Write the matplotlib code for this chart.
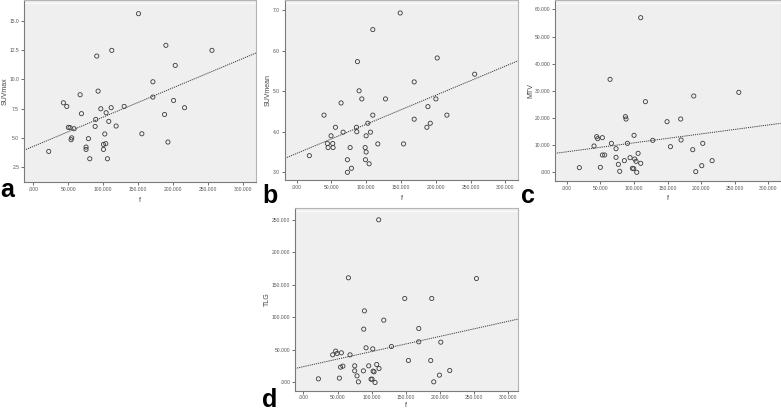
import numpy as np
import matplotlib
matplotlib.use("Agg")
import matplotlib.pyplot as plt

plt.rcParams["font.family"] = ["Liberation Sans", "DejaVu Sans"]

W, H = 781, 411

# ---- data ----------------------------------------------------------------
# x variable "f" (same subjects in every panel)
A_X = [150430, 112200, 90700, 189600, 255500, 203000, 171000, 171000, 200600,
       216300, 187700, 92600, 66900, 43000, 47800, 68800, 96500, 111300,
       104100, 129900, 89300, 107900, 118400, 88400, 50100, 52500, 58300,
       54900, 54000, 78800, 102200, 155200, 192500, 100300, 103600, 75400,
       75400, 100300, 22000, 80700, 106000]
A_Y = [15.63, 12.49, 12.0, 12.92, 12.49, 11.2, 9.8, 8.49, 8.2, 7.58, 7.0,
       9.0, 8.69, 8.0, 7.69, 7.07, 7.49, 7.58, 7.15, 7.69, 6.58, 6.41, 6.01,
       5.98, 5.9, 5.87, 5.78, 5.0, 4.84, 4.93, 5.33, 5.35, 4.64, 4.44, 4.5,
       4.21, 4.01, 4.01, 3.84, 3.21, 3.21]

B_X = [148800, 109400, 87300, 202000, 255800, 168900, 89700, 93600, 127600,
       200100, 63800, 188600, 39300, 109400, 215900, 168900, 102200, 192000,
       187100, 55700, 85900, 66700, 86400, 106000, 49400, 99800, 44100, 51800,
       116600, 153600, 45100, 52300, 76800, 98400, 99800, 18200, 72900, 98800,
       104100, 78700, 72900]
B_Y = [6.93, 6.52, 5.73, 5.82, 5.42, 5.23, 5.01, 4.81, 4.81, 4.81, 4.71, 4.62,
       4.41, 4.41, 4.41, 4.31, 4.21, 4.21, 4.11, 4.11, 4.11, 3.99, 4.0, 3.99,
       3.9, 3.9, 3.71, 3.71, 3.7, 3.7, 3.61, 3.61, 3.61, 3.61, 3.5, 3.41,
       3.31, 3.31, 3.21, 3.1, 3.0]

C_X = [110100, 64500, 256000, 189000, 117100, 87300, 88300, 169600, 149300,
       100200, 44600, 53100, 46100, 128000, 170100, 66500, 90300, 202400,
       40700, 154300, 73400, 187500, 106200, 53100, 56500, 94300, 73400,
       101200, 85800, 103200, 216300, 110100, 76900, 200900, 18800, 50100,
       97700, 99700, 78900, 104200, 192000]
C_Y = [56930, 34230, 29450, 28100, 26010, 20490, 19630, 19630, 18650, 13620,
       13130, 12760, 12390, 11780, 11900, 10670, 10670, 10670, 9690, 9450,
       8710, 8340, 7000, 6380, 6380, 5400, 5520, 4910, 4300, 4050, 4300, 3310,
       2940, 2450, 1720, 1840, 1470, 1350, 370, 0, 250]

D_X = [110200, 65900, 253200, 148300, 187800, 89300, 117600, 88300, 168800,
       168800, 201000, 128800, 91700, 101500, 42900, 47300, 49300, 55600,
       68300, 153700, 186300, 75100, 95600, 107300, 57800, 54400, 110700,
       75100, 87800, 102000, 103400, 214100, 78500, 199000, 22000, 52700,
       99000, 100500, 80500, 104900, 190700]
D_Y = [250000, 160900, 159800, 129100, 129100, 110100, 95800, 82000, 83000,
       62500, 62000, 55300, 53300, 51700, 42500, 48200, 44600, 45600, 42500,
       33800, 33800, 25600, 25600, 27700, 25100, 23600, 21500, 17900, 17900,
       17400, 16400, 18400, 10200, 11300, 5600, 6700, 5100, 5100, 1000, 0,
       1000]

# fit lines (intercept, slope) as drawn
A_FIT = (4.27, 2.51e-5)
B_FIT = (3.466, 7.18e-6)
C_FIT = (7562, 0.03295)
D_FIT = (24340, 0.2329)

X_TICKS = [0, 50000, 100000, 150000, 200000, 250000, 300000]
X_TICKLABELS = [".000", "50.000", "100.000", "150.000", "200.000",
                "250.000", "300.000"]

A_YTICKS = [2.5, 5.0, 7.5, 10.0, 12.5, 15.0]
A_YLABELS = ["2.5", "5.0", "7.5", "10.0", "12.5", "15.0"]
B_YTICKS = [3.0, 4.0, 5.0, 6.0, 7.0]
B_YLABELS = ["3.0", "4.0", "5.0", "6.0", "7.0"]
C_YTICKS = [0, 10000, 20000, 30000, 40000, 50000, 60000]
C_YLABELS = [".000", "10.000", "20.000", "30.000", "40.000", "50.000",
             "60.000"]
D_YTICKS = [0, 50000, 100000, 150000, 200000, 250000]
D_YLABELS = [".000", "50.000", "100.000", "150.000", "200.000", "250.000"]

PANELS = [
    # letter, ylabel, x, y, fit, yticks, ylabels, xlim, ylim,
    # axes box (px), letter pos (px), ylabel x, xlabel y (axes coords)
    ("a", "SUVmax", A_X, A_Y, A_FIT, A_YTICKS, A_YLABELS,
     (-13370, 318500), (1.22, 16.8), (24, 0, 256, 182), (0, 197),
     -0.068, -0.082),
    ("b", "SUVmean", B_X, B_Y, B_FIT, B_YTICKS, B_YLABELS,
     (-16800, 318100), (2.81, 7.25), (285, 0, 518, 180), (262, 203),
     -0.056, -0.083),
    ("c", "MTV", C_X, C_Y, C_FIT, C_YTICKS, C_YLABELS,
     (-17360, 318000), (-3190, 63440), (555, 0, 780.5, 181), (521, 203),
     -0.093, -0.077),
    ("d", "TLG", D_X, D_Y, D_FIT, D_YTICKS, D_YLABELS,
     (-12200, 313200), (-12300, 267400), (295, 208.5, 517.5, 390.5), (262, 407),
     -0.108, -0.063),
]

fig = plt.figure(figsize=(W / 100, H / 100), dpi=100)

for (letter, ylab, xs, ys, fit, yt, ytl, xlim, ylim, box, lpos,
     ylx, xly) in PANELS:
    x0, y0, x1, y1 = box
    ax = fig.add_axes([x0 / W, 1 - y1 / H, (x1 - x0) / W, (y1 - y0) / H])
    ax.set_facecolor("#efefef")
    for side in ["left", "bottom"]:
        ax.spines[side].set_color("#7a7a7a")
        ax.spines[side].set_linewidth(0.8)
    for side in ["top", "right"]:
        ax.spines[side].set_color("#b4b4b4")
        ax.spines[side].set_linewidth(0.8)
    # faint inner frame line like the SPSS chart
    ax.plot([0, 1], [0.985, 0.985], transform=ax.transAxes,
            color="white", lw=0.6, zorder=1)

    ax.scatter(xs, ys, s=9, facecolors="none", edgecolors="#3a3a3a",
               linewidths=0.6, zorder=3)

    xx = np.array(xlim)
    ax.plot(xx, fit[0] + fit[1] * xx, color="#3a3a3a", lw=0.7,
            ls=(0, (1.2, 1.0)), zorder=2)

    ax.set_xlim(*xlim)
    ax.set_ylim(*ylim)
    ax.set_xticks(X_TICKS)
    ax.set_xticklabels(X_TICKLABELS)
    ax.set_yticks(yt)
    ax.set_yticklabels(ytl)
    ax.tick_params(axis="both", direction="out", length=2, width=0.6,
                   color="#555555", labelsize=3.6, labelcolor="#555555",
                   pad=1.5)
    ax.set_xlabel("f", fontsize=5, color="#444444")
    ax.set_ylabel(ylab, fontsize=5, color="#444444")
    ax.xaxis.set_label_coords(0.5, xly)
    ax.yaxis.set_label_coords(ylx, 0.5)

    fig.text(lpos[0] / W, 1 - lpos[1] / H, letter, fontsize=18,
             fontweight="bold", ha="left", va="baseline", color="black")

fig.savefig("out.png", dpi=100, facecolor="white")
